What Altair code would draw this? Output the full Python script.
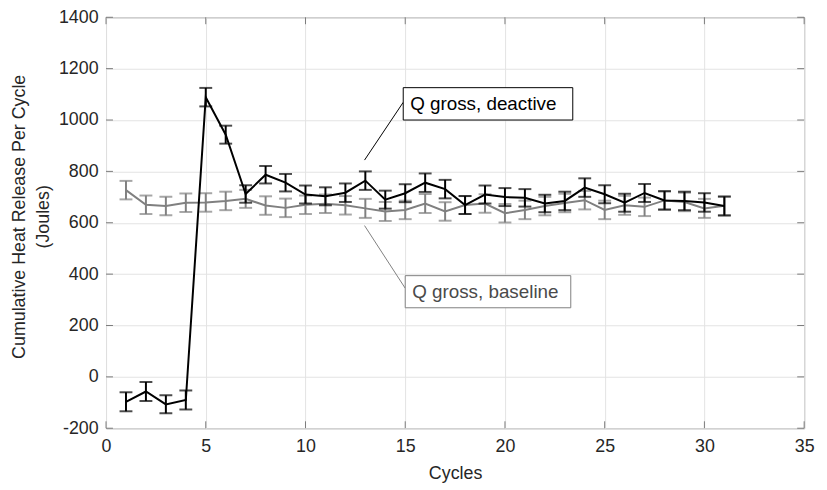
import altair as alt
import pandas as pd

cycles = list(range(1, 32))

deactive_mean = [-97, -57, -107, -90, 1089, 943, 712, 787, 756, 710, 703, 717, 764, 690, 715,
                 756, 731, 669, 710, 700, 697, 675, 685, 737, 711, 678, 716, 687, 685, 679, 665]
deactive_err = [37, 37, 35, 37, 36, 35, 34, 34, 34, 35, 35, 36, 36, 35, 35,
                36, 36, 35, 35, 35, 34, 34, 36, 36, 35, 35, 35, 36, 36, 36, 37]

baseline_mean = [727, 670, 665, 678, 679, 685, 693, 667, 658, 670, 674, 668, 656, 644, 650,
                 675, 644, 669, 675, 637, 650, 665, 677, 688, 650, 668, 662, 687, 681, 656, 666]
baseline_err = [36, 36, 36, 36, 36, 36, 35, 36, 36, 36, 36, 36, 37, 37, 36,
                37, 36, 35, 36, 36, 36, 36, 36, 36, 36, 37, 36, 35, 36, 37, 36]

x_ticks = [0, 5, 10, 15, 20, 25, 30, 35]
y_ticks = [-200, 0, 200, 400, 600, 800, 1000, 1200, 1400]

# annotations (data coordinates)
ann_labels = ["Q gross, deactive", "Q gross, baseline"]
ann_box_x1 = [14.9, 15.0]
ann_box_x2 = [23.4, 23.3]
ann_box_y1 = [1000, 269]
ann_box_y2 = [1126, 394]
ann_text_x = [15.25, 15.35]
ann_text_y = [1063, 331]
ann_line_x1 = [12.96, 12.96]
ann_line_y1 = [844, 589]
ann_line_x2 = [14.9, 15.0]
ann_line_y2 = [1069, 345]
ann_color = ["#000000", "#808080"]
ann_text_color = ["#000000", "#4a4a4a"]

W, H = 705, 415
FONT = "Liberation Sans"

rows = []
for c, m, e in zip(cycles, baseline_mean, baseline_err):
    rows.append({"cycle": c, "mean": m, "lo": m - e, "hi": m + e, "series": "baseline"})
for c, m, e in zip(cycles, deactive_mean, deactive_err):
    rows.append({"cycle": c, "mean": m, "lo": m - e, "hi": m + e, "series": "deactive"})
df = pd.DataFrame(rows)

ann = pd.DataFrame({
    "label": ann_labels, "bx1": ann_box_x1, "bx2": ann_box_x2, "by1": ann_box_y1, "by2": ann_box_y2,
    "tx": ann_text_x, "ty": ann_text_y, "lx1": ann_line_x1, "ly1": ann_line_y1,
    "lx2": ann_line_x2, "ly2": ann_line_y2, "color": ann_color, "tcolor": ann_text_color,
})

xs = alt.Scale(domain=[0, 35], nice=False, zero=False)
ys = alt.Scale(domain=[-200, 1400], nice=False, zero=False)

x_axis = alt.Axis(values=x_ticks, title="Cycles", grid=True, ticks=False, domain=False,
                  labelFontSize=18, titleFontSize=18, labelPadding=9, titleY=37,
                  labelFlush=False)
y_axis = alt.Axis(values=y_ticks, title=["Cumulative Heat Release Per Cycle", "(Joules)"],
                  grid=True, ticks=False, domain=False, labelFontSize=18, titleFontSize=18,
                  labelPadding=8, titleAngle=-90, titleX=-96, titleY=201,
                  titleAlign="center", titleBaseline="top", titleLineHeight=24,
                  labelExpr="'' + datum.value")

base = alt.Chart(df)

grid_layer = alt.Chart(pd.DataFrame({"x": [0], "y": [0]})).mark_point(opacity=0).encode(
    x=alt.X("x:Q", scale=xs, axis=x_axis),
    y=alt.Y("y:Q", scale=ys, axis=y_axis),
)

layers = [grid_layer]
for s in ["baseline", "deactive"]:
    d = base.transform_filter(alt.datum.series == s)
    col = "#808080" if s == "baseline" else "#000000"
    layers.append(d.mark_line(color=col, strokeWidth=2).encode(
        x=alt.X("cycle:Q", scale=xs), y=alt.Y("mean:Q", scale=ys)))
    layers.append(d.mark_rule(color=col, strokeWidth=2).encode(
        x=alt.X("cycle:Q", scale=xs), y=alt.Y("lo:Q", scale=ys), y2="hi:Q"))
    layers.append(d.mark_tick(color=col, orient="horizontal", size=13, thickness=2).encode(
        x=alt.X("cycle:Q", scale=xs), y=alt.Y("lo:Q", scale=ys)))
    layers.append(d.mark_tick(color=col, orient="horizontal", size=13, thickness=2).encode(
        x=alt.X("cycle:Q", scale=xs), y=alt.Y("hi:Q", scale=ys)))

# inward ticks
yt = alt.Chart(pd.DataFrame({"v": y_ticks}))
xt = alt.Chart(pd.DataFrame({"v": x_ticks}))
tick_col = "#7a7a7a"
layers += [
    yt.mark_rule(color=tick_col).encode(y=alt.Y("v:Q", scale=ys), x=alt.value(0), x2=alt.value(7)),
    yt.mark_rule(color=tick_col).encode(y=alt.Y("v:Q", scale=ys), x=alt.value(W - 7), x2=alt.value(W)),
    xt.mark_rule(color=tick_col).encode(x=alt.X("v:Q", scale=xs), y=alt.value(H), y2=alt.value(H - 7)),
    xt.mark_rule(color=tick_col).encode(x=alt.X("v:Q", scale=xs), y=alt.value(0), y2=alt.value(7)),
]

a = alt.Chart(ann)
layers += [
    a.mark_rule(strokeWidth=1).encode(
        x=alt.X("lx1:Q", scale=xs), y=alt.Y("ly1:Q", scale=ys), x2="lx2:Q", y2="ly2:Q",
        color=alt.Color("color:N", scale=None)),
    a.mark_rect(fill="white", strokeWidth=1).encode(
        x=alt.X("bx1:Q", scale=xs), x2="bx2:Q", y=alt.Y("by1:Q", scale=ys), y2="by2:Q",
        stroke=alt.Stroke("color:N", scale=None)),
    a.mark_text(align="left", baseline="middle", fontSize=19, font=FONT).encode(
        x=alt.X("tx:Q", scale=xs), y=alt.Y("ty:Q", scale=ys), text="label:N",
        color=alt.Color("tcolor:N", scale=None)),
]

chart = alt.layer(*layers).properties(
    width=W, height=H,
    autosize=alt.AutoSizeParams(type="none"),
    padding={"left": 99, "top": 7, "right": 15, "bottom": 60},
).configure_view(
    stroke="#7a7a7a", strokeWidth=1
).configure_axis(
    labelFont=FONT, titleFont=FONT, labelColor="#262626", titleColor="#262626",
    titleFontWeight="normal", gridColor="#e3e3e3", gridWidth=1
)

chart.save("out.html", embed_options={"renderer": "svg", "actions": False})
